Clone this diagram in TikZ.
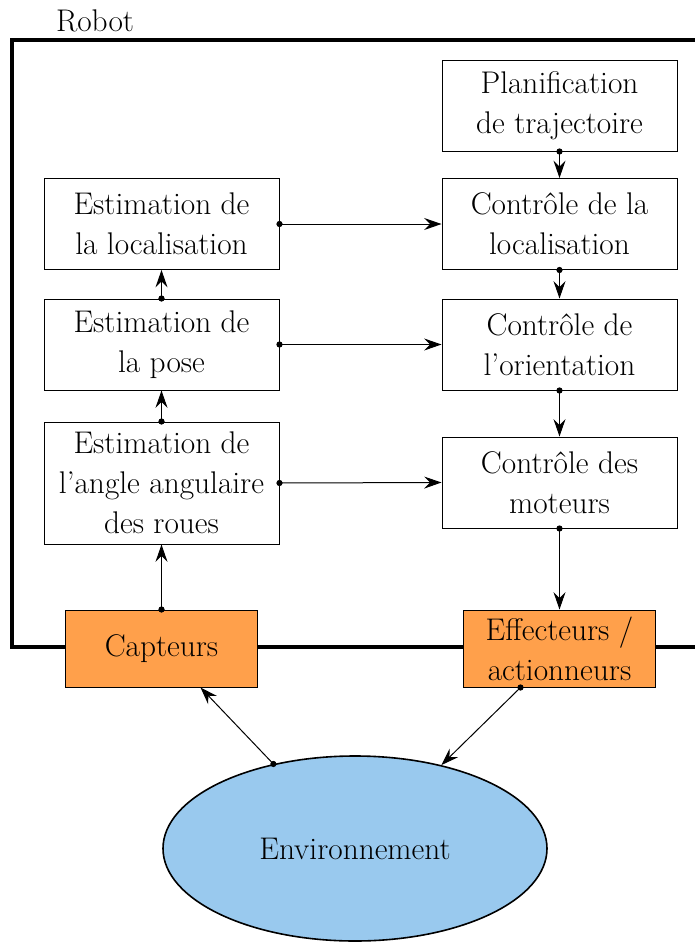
\documentclass[tikz,border=0pt]{standalone}
\usetikzlibrary{arrows.meta,shapes.geometric}
\definecolor{orangebox}{RGB}{255,160,75}
\definecolor{envblue}{RGB}{153,201,238}
\begin{document}
\begin{tikzpicture}[x=0.75pt,y=-0.75pt,
  every node/.style={font=\fontsize{23.5}{30}\selectfont},
  box/.style={draw,line width=0.75pt,rectangle,align=center,minimum width=176.25pt,minimum height=68.25pt,inner sep=0pt},
  hwbox/.style={draw,line width=0.75pt,rectangle,align=center,fill=orangebox,minimum width=144pt,minimum height=57.75pt,inner sep=0pt},
  frame/.style={line width=2.8pt,line join=miter},
  conn/.style={line width=0.75pt,{Circle[length=4.6pt]}-{Stealth[length=13pt,width=9pt,inset=4.5pt]},shorten <=-2.3pt}
]
\useasboundingbox (0,0) rectangle (694,943);
\draw[frame] (700,40) -- (12,40) -- (12,647) -- (700,647);
\node (robot) at (95,21) {Robot};
\node[box] (plan) at (559.5,105.5) {Planification\\de trajectoire};
\node[box] (cloc) at (559.5,224) {Contrôle de la\\localisation};
\node[box] (cori) at (559.5,344.5) {Contrôle de\\l’orientation};
\node[box] (cmot) at (559.5,482.5) {Contrôle des\\moteurs};
\node[box] (eloc) at (161.5,224) {Estimation de\\la localisation};
\node[box] (epose) at (161.5,344.5) {Estimation de\\la pose};
\node[box,minimum height=91.5pt] (eang) at (161.5,483) {Estimation de\\l’angle angulaire\\des roues};
\node[hwbox] (capt) at (161.5,648.5) {Capteurs};
\node[hwbox] (eff) at (559.5,648.5) {Effecteurs /\\actionneurs};
\node[draw,line width=1.2pt,ellipse,fill=envblue,minimum width=288pt,minimum height=138.75pt,inner sep=0pt] (env) at (355,848.5) {Environnement};
\draw[conn] (plan.south) -- (cloc.north);
\draw[conn] (cloc.south) -- (cori.north);
\draw[conn] (cori.south) -- (cmot.north);
\draw[conn] (cmot.south) -- (eff.north);
\draw[conn] (eloc.east) -- (cloc.west);
\draw[conn] (epose.east) -- (cori.west);
\draw[conn] (eang.east) -- (cmot.west);
\draw[conn] (epose.north) -- (eloc.south);
\draw[conn] (eang.north) -- (epose.south);
\draw[conn] (capt.north) -- (eang.south);
\draw[conn] (env.134) -- (capt.-45);
\draw[conn] (eff.-135) -- (env.44);
\end{tikzpicture}
\end{document}
